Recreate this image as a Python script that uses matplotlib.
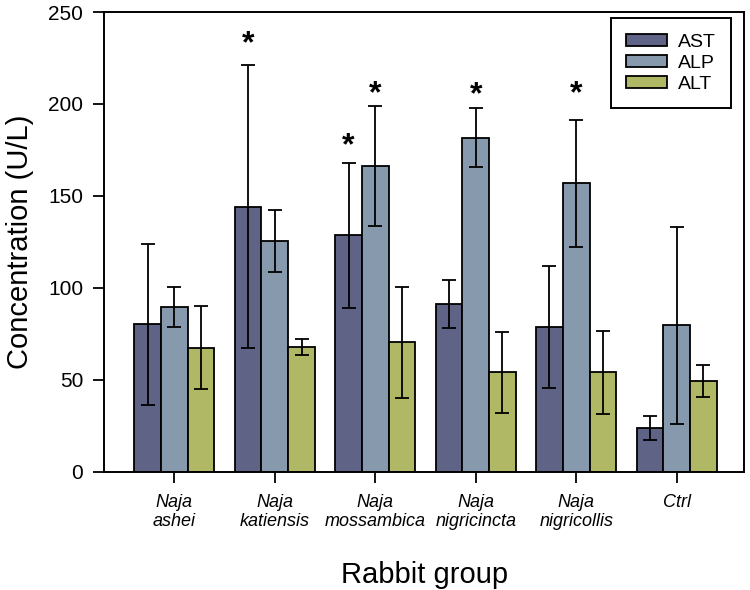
import matplotlib
matplotlib.use("Agg")
import matplotlib.pyplot as plt
import numpy as np

plt.rcParams['font.family'] = ['Liberation Sans', 'DejaVu Sans']

groups = ["Naja\nashei", "Naja\nkatiensis", "Naja\nmossambica", "Naja\nnigricincta", "Naja\nnigricollis", "Ctrl"]
series = ["AST", "ALP", "ALT"]
ast_mean = [80, 144, 128.5, 91, 78.7, 23.8]
ast_sd = [44, 77, 39.5, 13, 33.3, 6.6]
alp_mean = [89.5, 125.5, 166.2, 181.7, 156.7, 79.5]
alp_sd = [10.8, 17, 32.5, 16, 34.5, 53.5]
alt_mean = [67.3, 67.8, 70.2, 54, 54, 49.3]
alt_sd = [22.5, 4.5, 30, 22, 22.5, 8.7]
colors = ["#5f6487", "#8799ad", "#b0b865"]
# significance marks: (group index, series index, y of the mark)
stars = [(1, 0, 232.6), (2, 0, 177.1), (2, 1, 205.4), (3, 1, 204.9), (4, 1, 205.4)]
yticks = [0, 50, 100, 150, 200, 250]

means = [ast_mean, alp_mean, alt_mean]
sds = [ast_sd, alp_sd, alt_sd]

fig = plt.figure(figsize=(7.5, 5.9), dpi=100)
ax = fig.add_axes([104 / 750, 1 - 471.5 / 590, 640.5 / 750, 459.5 / 590])

x = np.arange(len(groups))
w = 0.266
for i, s in enumerate(series):
    xi = x + (i - 1) * w
    ax.bar(xi, means[i], width=w, color=colors[i], edgecolor='black', linewidth=1.3, label=s, zorder=2)
    ax.errorbar(xi, means[i], yerr=sds[i], fmt='none', ecolor='black', elinewidth=1.3,
                capsize=5, capthick=1.3, zorder=3)

for g, si, yv in stars:
    ax.text(x[g] + (si - 1) * w, yv, "*", ha='center', va='center', fontsize=23,
            fontweight='bold', color='black', zorder=4)

ax.set_xlim(-0.70, 5.675)
ax.set_ylim(0, 250)
ax.set_yticks(yticks)
ax.set_xticks(x)
ax.set_xticklabels(groups, fontstyle='italic', fontsize=13, linespacing=1.2)
ax.tick_params(axis='y', labelsize=15, length=8, width=1.3, pad=7, direction='out')
ax.tick_params(axis='x', length=8, width=1.3, pad=8, direction='out')
for sp in ax.spines.values():
    sp.set_linewidth(1.4)

ax.set_ylabel("Concentration (U/L)", fontsize=21, labelpad=10)
ax.set_xlabel("Rabbit group", fontsize=21, labelpad=22)

leg = ax.legend(loc='upper right', bbox_to_anchor=(0.979, 0.987), fontsize=14,
                frameon=True, fancybox=False, edgecolor='black', framealpha=1,
                handlelength=2.1, handleheight=0.62, handletextpad=0.55,
                labelspacing=0.2, borderpad=0.8, borderaxespad=0)
leg.get_frame().set_linewidth(1.4)

fig.savefig("out.png", dpi=100)
